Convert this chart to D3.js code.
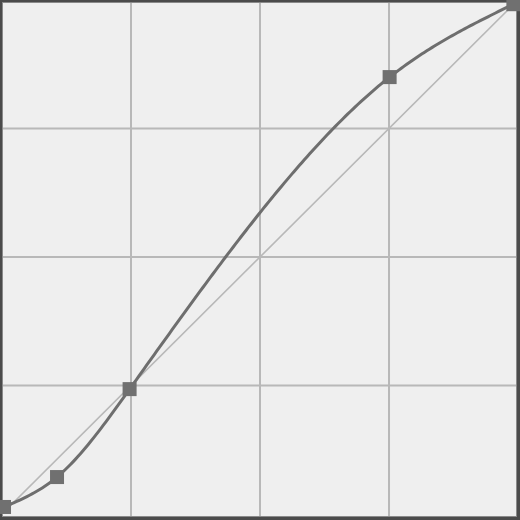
<!DOCTYPE html>
<html><head><meta charset="utf-8">
<script src="https://cdn.jsdelivr.net/npm/d3@7"></script>
<style>html,body{margin:0;padding:0;background:#fff;}svg{display:block;}</style>
</head><body>
<script>
const inputs = [1, 27.3, 63.3, 192.3, 253.7];
const outputs = [3.5, 18.4, 62.2, 217.6, 253.9];
const gridTicks = [64, 128, 192];

// natural cubic spline y(x) through the control points
function naturalSpline(xs, ys) {
  const n = xs.length;
  const h = [], d = [];
  for (let i = 0; i < n - 1; i++) { h.push(xs[i+1]-xs[i]); d.push((ys[i+1]-ys[i])/h[i]); }
  const M = new Array(n).fill(0);
  const m = n - 2;
  if (m > 0) {
    const a = [], b = [], c = [], r = [];
    for (let i = 1; i <= m; i++) {
      a.push(h[i-1]); b.push(2*(h[i-1]+h[i])); c.push(h[i]); r.push(6*(d[i]-d[i-1]));
    }
    for (let i = 1; i < m; i++) { const w = a[i]/b[i-1]; b[i] -= w*c[i-1]; r[i] -= w*r[i-1]; }
    const sol = new Array(m);
    sol[m-1] = r[m-1]/b[m-1];
    for (let i = m-2; i >= 0; i--) sol[i] = (r[i]-c[i]*sol[i+1])/b[i];
    for (let i = 0; i < m; i++) M[i+1] = sol[i];
  }
  return function(t) {
    let i = 0;
    while (i < n-2 && t > xs[i+1]) i++;
    const A = (xs[i+1]-t)/h[i], B = (t-xs[i])/h[i];
    return A*ys[i] + B*ys[i+1] + ((A*A*A-A)*M[i] + (B*B*B-B)*M[i+1])*h[i]*h[i]/6;
  };
}

const W = 520, H = 520;
const svg = d3.select("body").append("svg").attr("width", W).attr("height", H);
svg.append("rect").attr("x",0).attr("y",0).attr("width",W).attr("height",H).attr("fill","#4b4b4b");
svg.append("rect").attr("x",2).attr("y",2).attr("width",515).attr("height",515).attr("fill","#8a8a8a");
svg.append("rect").attr("x",3).attr("y",3).attr("width",513).attr("height",513).attr("fill","#efefef");

const x = d3.scaleLinear().domain([0,255]).range([2,516]);
const y = d3.scaleLinear().domain([0,255]).range([514,2]);

const g = svg.append("g");
g.selectAll("line.v").data(gridTicks).join("line")
  .attr("x1", d=>x(d)).attr("x2", d=>x(d)).attr("y1",3).attr("y2",516)
  .attr("stroke","#b8b8b8").attr("stroke-width",2);
g.selectAll("line.h").data(gridTicks).join("line")
  .attr("y1", d=>y(d)).attr("y2", d=>y(d)).attr("x1",3).attr("x2",516)
  .attr("stroke","#b8b8b8").attr("stroke-width",2);

g.append("line").attr("x1",x(0)).attr("y1",y(0)).attr("x2",x(255)).attr("y2",y(255))
  .attr("stroke","#b8b8b8").attr("stroke-width",1.6);

const f = naturalSpline(inputs, outputs);
const x0 = inputs[0], x1 = inputs[inputs.length-1];
const samples = d3.range(0, 201).map(k => { const t = x0 + (x1-x0)*k/200; return [t, f(t)]; });
const line = d3.line().x(d=>x(d[0])).y(d=>y(d[1]));
g.append("path").attr("d", line(samples)).attr("fill","none")
  .attr("stroke","#6e6e6e").attr("stroke-width",3).attr("stroke-linejoin","round");

const pts = inputs.map((v,i)=>[v, outputs[i]]);
g.selectAll("rect.pt").data(pts).join("rect")
  .attr("x", d=>x(d[0])-7).attr("y", d=>y(d[1])-7)
  .attr("width",14).attr("height",14).attr("fill","#707070");
</script>
</body></html>
